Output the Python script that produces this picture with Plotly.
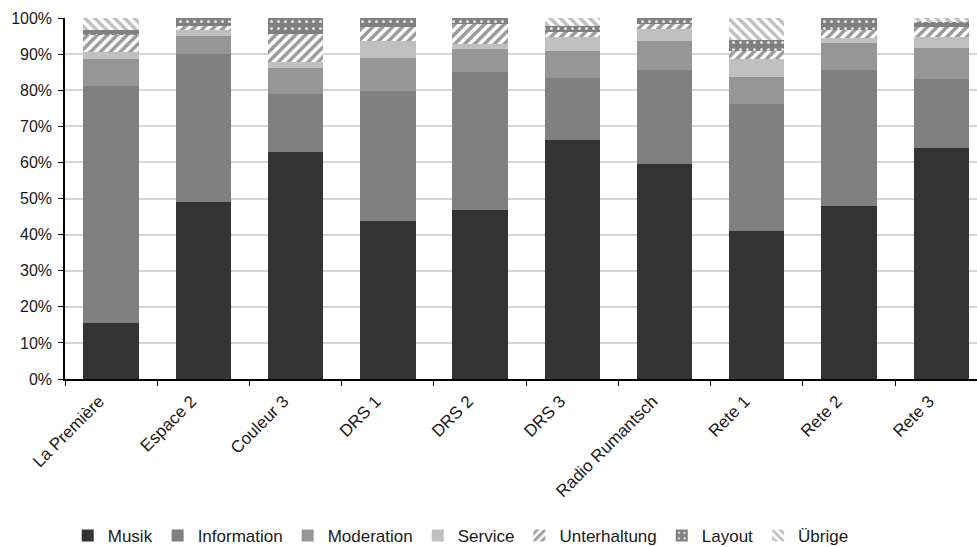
import plotly.graph_objects as go

categories = ["La Première", "Espace 2", "Couleur 3", "DRS 1", "DRS 2", "DRS 3",
              "Radio Rumantsch", "Rete 1", "Rete 2", "Rete 3"]

musik = [15.6, 48.9, 62.8, 43.9, 46.7, 66.1, 59.5, 40.9, 47.9, 63.9]
information = [65.6, 41.1, 16.1, 36.0, 38.3, 17.3, 26.1, 35.3, 37.7, 19.2]
moderation = [7.4, 5.0, 7.2, 9.0, 6.4, 7.5, 8.0, 7.5, 7.5, 8.6]
service = [2.0, 1.7, 1.7, 4.7, 1.4, 3.9, 3.4, 4.9, 1.4, 3.0]
unterhaltung = [4.6, 1.1, 7.8, 3.8, 5.5, 1.3, 1.3, 2.3, 2.2, 2.8]
layout_vals = [1.5, 2.2, 4.4, 2.6, 1.7, 1.7, 1.7, 3.0, 3.3, 1.4]
uebrige = [3.3, 0.0, 0.0, 0.0, 0.0, 2.2, 0.0, 6.1, 0.0, 1.1]

y_ticks = [0, 10, 20, 30, 40, 50, 60, 70, 80, 90, 100]
y_tick_labels = [f"{v}%" for v in y_ticks]

FONT = "Liberation Sans, Arial, sans-serif"

fig = go.Figure()

def add(name, vals, color, pattern=None):
    marker = dict(color=color, line=dict(width=0))
    if pattern:
        marker["pattern"] = pattern
    fig.add_trace(go.Bar(name=name, x=categories, y=vals, marker=marker, width=0.6))

add("Musik", musik, "#333333")
add("Information", information, "#808080")
add("Moderation", moderation, "#969696")
add("Service", service, "#c0c0c0")
add("Unterhaltung", unterhaltung, "#9a9a9a",
    dict(shape="/", fgcolor="#9a9a9a", bgcolor="#ffffff", size=7, solidity=0.5, fillmode="replace"))
add("Layout", layout_vals, "#808080",
    dict(shape=".", fgcolor="#e0e0e0", bgcolor="#808080", size=7, solidity=0.15, fillmode="replace"))
add("Übrige", uebrige, "#c0c0c0",
    dict(shape="\\", fgcolor="#c0c0c0", bgcolor="#ffffff", size=7, solidity=0.5, fillmode="replace"))

fig.update_layout(
    width=977, height=547,
    barmode="stack",
    paper_bgcolor="white", plot_bgcolor="white",
    margin=dict(l=65, r=0, t=18, b=168, autoexpand=False),
    font=dict(family=FONT, size=16, color="#1a1a1a"),
    xaxis=dict(
        type="category",
        range=[-0.5, 9.387],
        tickangle=-45,
        tickson="boundaries",
        ticks="outside", ticklen=5, tickcolor="#000000",
        showline=True, linecolor="#000000", linewidth=1.5,
        showgrid=False,
        tickfont=dict(size=17),
        ticklabelshift=-12,
        ticklabelstandoff=4,
    ),
    yaxis=dict(
        range=[0, 100],
        tickmode="array",
        tickvals=y_ticks,
        ticktext=y_tick_labels,
        ticks="outside", ticklen=5, tickcolor="#000000",
        showline=True, linecolor="#000000", linewidth=1.5,
        showgrid=True, gridcolor="#d6d6d6", gridwidth=1.5,
        zeroline=False,
        tickfont=dict(size=16),
        ticklabelstandoff=3,
    ),
    legend=dict(
        orientation="h",
        x=0.003, xanchor="left",
        y=-0.435, yanchor="middle",
        traceorder="normal",
        font=dict(size=17),
        itemwidth=30,
    ),
)

fig.write_html("out.html")
